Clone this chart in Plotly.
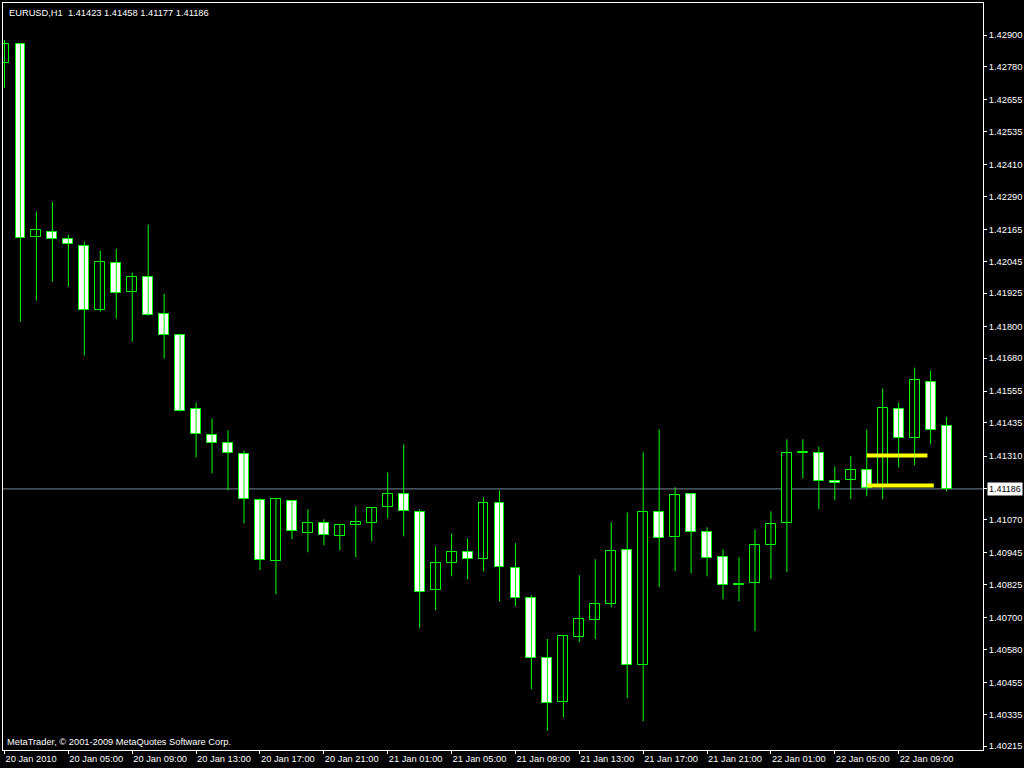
import plotly.graph_objects as go

# ---------------- data (EURUSD H1) ----------------
opens = [1.42794, 1.42866, 1.42138, 1.42157, 1.42131, 1.42104, 1.41863, 1.42040, 1.41931, 1.41987,
         1.41848, 1.41769, 1.41486, 1.41388, 1.41361, 1.41316, 1.41143, 1.40913, 1.41139, 1.41018,
         1.41056, 1.41007, 1.41048, 1.41056, 1.41116, 1.41165, 1.41097, 1.40803, 1.40905, 1.40947,
         1.40920, 1.41131, 1.40886, 1.40773, 1.40547, 1.40381, 1.40626, 1.40690, 1.40751, 1.40954,
         1.40520, 1.41097, 1.41003, 1.41165, 1.41022, 1.40928, 1.40828, 1.40830, 1.40973, 1.41056,
         1.41320, 1.41320, 1.41214, 1.41218, 1.41256, 1.41192, 1.41486, 1.41380, 1.41588, 1.41423]
highs = [1.42881, 1.42870, 1.42233, 1.42270, 1.42146, 1.42119, 1.42085, 1.42093, 1.42003, 1.42184,
         1.41923, 1.41772, 1.41512, 1.41452, 1.41407, 1.41331, 1.41150, 1.41150, 1.41142, 1.41109,
         1.41071, 1.41050, 1.41120, 1.41116, 1.41248, 1.41354, 1.41109, 1.40969, 1.41018, 1.40999,
         1.41154, 1.41180, 1.40981, 1.40784, 1.40619, 1.40632, 1.40860, 1.40920, 1.41060, 1.41097,
         1.41324, 1.41410, 1.41192, 1.41169, 1.41041, 1.40958, 1.40928, 1.41033, 1.41101, 1.41373,
         1.41373, 1.41346, 1.41271, 1.41309, 1.41410, 1.41565, 1.41512, 1.41644, 1.41633, 1.41458]
lows = [1.42700, 1.41818, 1.41897, 1.41969, 1.41950, 1.41690, 1.41855, 1.41829, 1.41742, 1.41840,
        1.41678, 1.41478, 1.41305, 1.41245, 1.41180, 1.41056, 1.40879, 1.40788, 1.40996, 1.40947,
        1.40973, 1.40954, 1.40928, 1.40988, 1.41075, 1.41007, 1.40660, 1.40728, 1.40856, 1.40845,
        1.40875, 1.40762, 1.40743, 1.40430, 1.40272, 1.40324, 1.40607, 1.40619, 1.40739, 1.40396,
        1.40309, 1.40815, 1.40875, 1.40867, 1.40856, 1.40769, 1.40762, 1.40649, 1.40845, 1.40871,
        1.41226, 1.41109, 1.41143, 1.41147, 1.41158, 1.41147, 1.41267, 1.41275, 1.41354, 1.41177]
closes = [1.42866, 1.42134, 1.42165, 1.42131, 1.42112, 1.41863, 1.42044, 1.41927, 1.41987, 1.41844,
          1.41769, 1.41482, 1.41392, 1.41361, 1.41320, 1.41147, 1.40916, 1.41147, 1.41026, 1.41056,
          1.41011, 1.41048, 1.41060, 1.41113, 1.41165, 1.41101, 1.40796, 1.40905, 1.40947, 1.40920,
          1.41131, 1.40890, 1.40773, 1.40547, 1.40377, 1.40630, 1.40694, 1.40751, 1.40950, 1.40520,
          1.41097, 1.40999, 1.41162, 1.41022, 1.40924, 1.40822, 1.40824, 1.40973, 1.41052, 1.41320,
          1.41324, 1.41214, 1.41210, 1.41256, 1.41188, 1.41490, 1.41377, 1.41599, 1.41410, 1.41186]

time_labels = ["20 Jan 2010", "20 Jan 05:00", "20 Jan 09:00", "20 Jan 13:00", "20 Jan 17:00",
               "20 Jan 21:00", "21 Jan 01:00", "21 Jan 05:00", "21 Jan 09:00", "21 Jan 13:00",
               "21 Jan 17:00", "21 Jan 21:00", "22 Jan 01:00", "22 Jan 05:00", "22 Jan 09:00"]
label_every = 4

price_ticks = [1.42900, 1.42780, 1.42655, 1.42535, 1.42410, 1.42290, 1.42165, 1.42045, 1.41925,
               1.41800, 1.41680, 1.41555, 1.41435, 1.41310, 1.41186, 1.41070, 1.40945, 1.40825,
               1.40700, 1.40580, 1.40455, 1.40335, 1.40215]
price_tick_text = ["1.42900", "1.42780", "1.42655", "1.42535", "1.42410", "1.42290", "1.42165",
                   "1.42045", "1.41925", "1.41800", "1.41680", "1.41555", "1.41435", "1.41310",
                   "", "1.41070", "1.40945", "1.40825", "1.40700", "1.40580", "1.40455",
                   "1.40335", "1.40215"]

bid_price = 1.41186
level_prices = [1.41312, 1.41199]
level_start = [54.0, 54.05]
level_end = [57.8, 58.2]

symbol_title = "EURUSD,H1  1.41423 1.41458 1.41177 1.41186"
copyright_text = "MetaTrader, © 2001-2009 MetaQuotes Software Corp."

# ---------------- build figure ----------------
GREEN = "#00ff00"
FONT = "Liberation Sans"
n = len(opens)
idx = list(range(n))

wick_x, wick_y = [], []
for i in idx:
    wick_x += [i, i, None]
    wick_y += [lows[i], highs[i], None]

bases = [min(o, c) for o, c in zip(opens, closes)]
heights = [abs(c - o) for o, c in zip(opens, closes)]
fills = ["#000000" if c >= o else "#ffffff" for o, c in zip(opens, closes)]

fig = go.Figure()
fig.add_trace(go.Scatter(x=wick_x, y=wick_y, mode="lines",
                         line=dict(color=GREEN, width=1), hoverinfo="skip", showlegend=False))
fig.add_trace(go.Bar(x=idx, y=heights, base=bases, width=0.62,
                     marker=dict(color=fills, line=dict(color=GREEN, width=1)),
                     showlegend=False))
for lv, xs, xe in zip(level_prices, level_start, level_end):
    fig.add_trace(go.Scatter(x=[xs, xe], y=[lv, lv], mode="lines",
                             line=dict(color="#ffff00", width=4), showlegend=False, hoverinfo="skip"))

fig.add_shape(type="line", xref="paper", x0=0, x1=1, yref="y", y0=bid_price, y1=bid_price,
              line=dict(color="#778899", width=1), layer="below")

fig.add_annotation(xref="paper", x=1, xanchor="left", xshift=4, yref="y", y=bid_price,
                   text=f"{bid_price:.5f}", showarrow=False, bgcolor="#ffffff",
                   font=dict(family=FONT, size=9, color="#000000"), borderpad=1)
fig.add_annotation(xref="paper", x=0, xanchor="left", xshift=4, yref="paper", y=1,
                   yanchor="top", yshift=-3, text=symbol_title, showarrow=False,
                   font=dict(family=FONT, size=9.3, color="#ffffff"))
fig.add_annotation(xref="paper", x=0, xanchor="left", xshift=2, yref="paper", y=0,
                   yanchor="bottom", yshift=1, text=copyright_text, showarrow=False,
                   font=dict(family=FONT, size=9.3, color="#ffffff"))

fig.update_layout(
    width=1024, height=768,
    margin=dict(l=2, r=40, t=2, b=18),
    paper_bgcolor="#000000", plot_bgcolor="#000000",
    bargap=0, showlegend=False,
    font=dict(family=FONT, size=9, color="#ffffff"),
    xaxis=dict(range=[-0.09375, 61.28125], showgrid=False, zeroline=False,
               showline=True, linecolor="#ffffff", linewidth=1, mirror=True,
               tickvals=[i * label_every for i in range(len(time_labels))],
               ticktext=time_labels, ticks="outside", ticklen=3, tickcolor="#ffffff",
               ticklabelposition="outside right",
               tickfont=dict(family=FONT, size=9.3, color="#ffffff")),
    yaxis=dict(range=[1.40200, 1.43021], side="right", showgrid=False, zeroline=False,
               showline=True, linecolor="#ffffff", linewidth=1, mirror=True,
               tickvals=price_ticks, ticktext=price_tick_text, ticks="outside", ticklen=3,
               tickcolor="#ffffff", tickfont=dict(family=FONT, size=9.3, color="#ffffff")),
)

fig.write_html("out.html", config={"displayModeBar": False},
               post_script="document.body.style.margin='0';document.body.style.overflow='hidden';")
